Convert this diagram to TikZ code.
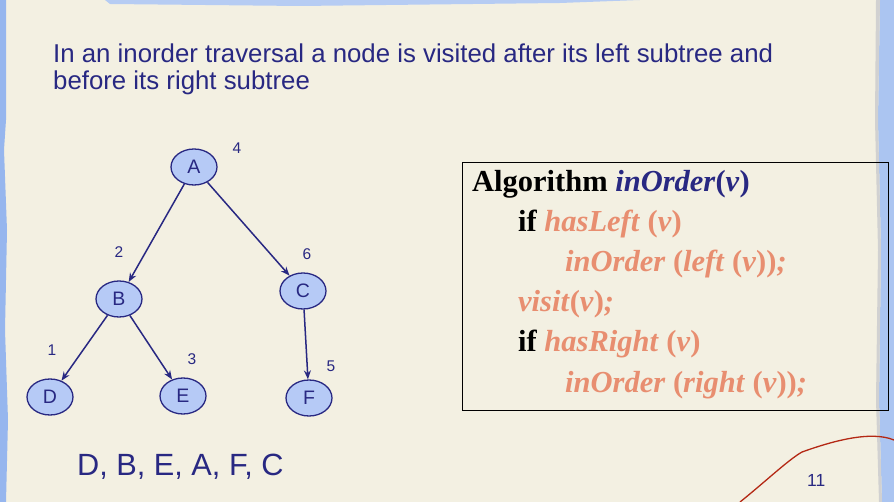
\documentclass[tikz,border=0pt]{standalone}
\usepackage{fontspec}
\setmainfont{Liberation Serif}
\setsansfont{Liberation Sans}
\usetikzlibrary{arrows.meta,shapes.geometric}
\definecolor{navy}{RGB}{40,40,130}
\definecolor{nodefill}{RGB}{182,202,246}
\definecolor{paper}{RGB}{243,240,226}
\definecolor{edgeblue}{RGB}{150,182,238}
\definecolor{salmon}{RGB}{232,142,112}
\definecolor{pencil}{RGB}{180,40,20}
\begin{document}
\begin{tikzpicture}[x=1pt,y=-1pt,
  treenode/.style={ellipse,draw=navy,line width=1.3pt,fill=nodefill,minimum width=46pt,minimum height=36pt,inner sep=0pt,font=\sffamily\fontsize{19.5}{19.5}\selectfont,text=navy},
  edge/.style={draw=navy,line width=1.5pt,-{Stealth[length=9pt,width=7pt]}},
  num/.style={font=\sffamily\fontsize{15.5}{15.5}\selectfont,text=navy},
  titletext/.style={anchor=base west,inner sep=0pt,font=\sffamily\fontsize{25.8}{25.8}\selectfont,text=navy},
  algo/.style={anchor=base west,font=\bfseries\fontsize{30.5}{30.5}\selectfont,inner sep=0pt},
  sal/.style={text=salmon}]
\useasboundingbox (0,0) rectangle (894,502);
\fill[paper] (0,0) rectangle (894,502);
% blue edges
\fill[edgeblue] (0,0) -- (6,0) -- (6,120) -- (4,150) -- (7,230) -- (5,330) -- (8,420) -- (6,502) -- (0,502) -- cycle;
\fill[edgeblue!80] (880,0) -- (894,0) -- (894,502) -- (882,502) -- (879,400) -- (881,250) -- (878,120) -- cycle;
\fill[black!18] (876,0) -- (880,0) -- (878,120) -- (881,250) -- (879,400) -- (882,502) -- (879,502) -- (876,400) -- (878,250) -- (875,120) -- cycle;
\fill[edgeblue!70] (105,0) -- (640,0) -- (560,3) -- (300,6) -- (110,4) -- cycle;
% title
\node[titletext] (title1) at (53,63) {In an inorder traversal a node is visited after its left subtree and};
\node[titletext] (title2) at (53,90) {before its right subtree};
% tree
\node[treenode] (A) at (194,167) {A};
\node[treenode] (B) at (119,299) {B};
\node[treenode] (C) at (303,291) {C};
\node[treenode] (D) at (50,397) {D};
\node[treenode] (E) at (183,396) {E};
\node[treenode] (F) at (309,398) {F};
\draw[edge] (A) -- (B);
\draw[edge] (A) -- (C);
\draw[edge] (B) -- (D);
\draw[edge] (B) -- (E);
\draw[edge] (C) -- (F);
\node[num] (n4) at (237,148) {4};
\node[num] (n2) at (119,252) {2};
\node[num] (n6) at (307,254) {6};
\node[num] (n1) at (52,350) {1};
\node[num] (n3) at (192,359) {3};
\node[num] (n5) at (331,366) {5};
\node[anchor=base west,inner sep=0pt,font=\sffamily\fontsize{30.7}{30.7}\selectfont,text=navy] (order) at (77,475) {D, B, E, A, F, C};
% algorithm box
\node[draw=black,line width=0.8pt,minimum width=426pt,minimum height=248pt,anchor=north west,inner sep=0pt] (box) at (462,162) {};
\node[algo] (l1) at (472,192) {Algorithm \textcolor{navy}{\itshape inOrder\textup{(}v\textup{)}}};
\node[algo] (l2) at (518,232) {if \textcolor{salmon}{\itshape hasLeft \textup{(}v\textup{)}}};
\node[algo,sal] (l3) at (565,272) {\itshape inOrder \textup{(}left \textup{(}v\textup{))};};
\node[algo,sal] (l4) at (518,312) {\itshape visit\textup{(}v\textup{)};};
\node[algo] (l5) at (518,352) {if \textcolor{salmon}{\itshape hasRight \textup{(}v\textup{)}}};
\node[algo,sal] (l6) at (565,392) {\itshape inOrder \textup{(}right \textup{(}v\textup{))};};
% page number and pencil mark
\draw[pencil,line width=1.3pt] (740,502) .. controls (765,482) and (788,460) .. (802,452) .. controls (830,442) and (870,430) .. (894,440);
\node[anchor=base west,inner sep=0pt,font=\sffamily\fontsize{17.5}{17.5}\selectfont,text=navy] (page) at (807,486) {11};
\end{tikzpicture}
\end{document}
